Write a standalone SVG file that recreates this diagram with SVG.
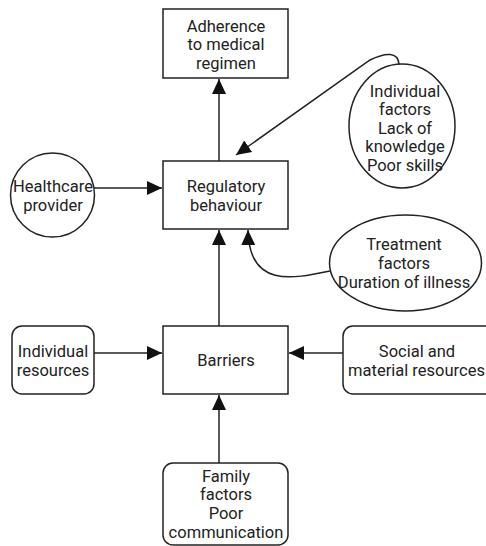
<svg xmlns="http://www.w3.org/2000/svg" width="486" height="546" viewBox="0 0 486 546">
<defs>
<style>
.shape{fill:#fff;stroke:#222;stroke-width:1.5}
.edge{fill:none;stroke:#222;stroke-width:1.5}
text{font-family:Roboto,"Liberation Sans",sans-serif;font-size:16.5px;fill:#222;text-anchor:middle}
</style>
<marker id="arr" markerUnits="userSpaceOnUse" markerWidth="16" markerHeight="15" refX="15" refY="7" orient="auto" viewBox="0 0 16 15">
<path d="M0,0 L15,7 L0,14 Z" fill="#111"/>
</marker>
</defs>
<rect width="486" height="546" fill="#fff"/>
<g id="connectors">
<path class="edge" d="M219,161 L219,79" marker-end="url(#arr)"/>
<path class="edge" d="M219,326 L219,230" marker-end="url(#arr)"/>
<path class="edge" d="M219,463 L219,395" marker-end="url(#arr)"/>
<path class="edge" d="M94,188 L162,188" marker-end="url(#arr)"/>
<path class="edge" d="M94,353 L162,353" marker-end="url(#arr)"/>
<path class="edge" d="M343,353 L289,353" marker-end="url(#arr)"/>
<path class="edge" d="M399,64 C398,52 386,52 370,60 L236,155" marker-end="url(#arr)"/>
<path class="edge" d="M330,271 C292,279 249,288 248,230" marker-end="url(#arr)"/>
</g>
<g id="adherence">
<rect class="shape" x="163" y="9" width="125" height="69"/>
<text x="226" y="31.5">Adherence</text>
<text x="226" y="50">to medical</text>
<text x="226" y="68.5">regimen</text>
</g>
<g id="regulatory">
<rect class="shape" x="163" y="161" width="125" height="68"/>
<text x="226" y="192">Regulatory</text>
<text x="226" y="210.5">behaviour</text>
</g>
<g id="barriers">
<rect class="shape" x="163" y="326" width="125" height="68"/>
<text x="226" y="366">Barriers</text>
</g>
<g id="individual-factors">
<ellipse class="shape" cx="402" cy="126" rx="53" ry="62"/>
<text x="405" y="96.5">Individual</text>
<text x="405" y="115">factors</text>
<text x="405" y="133.5">Lack of</text>
<text x="405" y="152">knowledge</text>
<text x="405" y="170.5">Poor skills</text>
</g>
<g id="healthcare">
<circle class="shape" cx="52.5" cy="195" r="42"/>
<text x="53" y="192">Healthcare</text>
<text x="53" y="210.5">provider</text>
</g>
<g id="treatment">
<ellipse class="shape" cx="405.5" cy="263" rx="76" ry="48"/>
<text x="404" y="250">Treatment</text>
<text x="404" y="269">factors</text>
<text x="404" y="288">Duration of illness</text>
</g>
<g id="individual-resources">
<rect class="shape" x="12" y="326" width="82" height="68" rx="10"/>
<text x="53" y="357">Individual</text>
<text x="53" y="375.5">resources</text>
</g>
<g id="social">
<rect class="shape" x="343" y="326" width="152" height="68" rx="10"/>
<text x="417" y="357">Social and</text>
<text x="416.5" y="375.5">material resources</text>
</g>
<g id="family">
<rect class="shape" x="163" y="463" width="125" height="82" rx="10"/>
<text x="226" y="481.5">Family</text>
<text x="226" y="500">factors</text>
<text x="226" y="519">Poor</text>
<text x="226" y="538">communication</text>
</g>
</svg>
